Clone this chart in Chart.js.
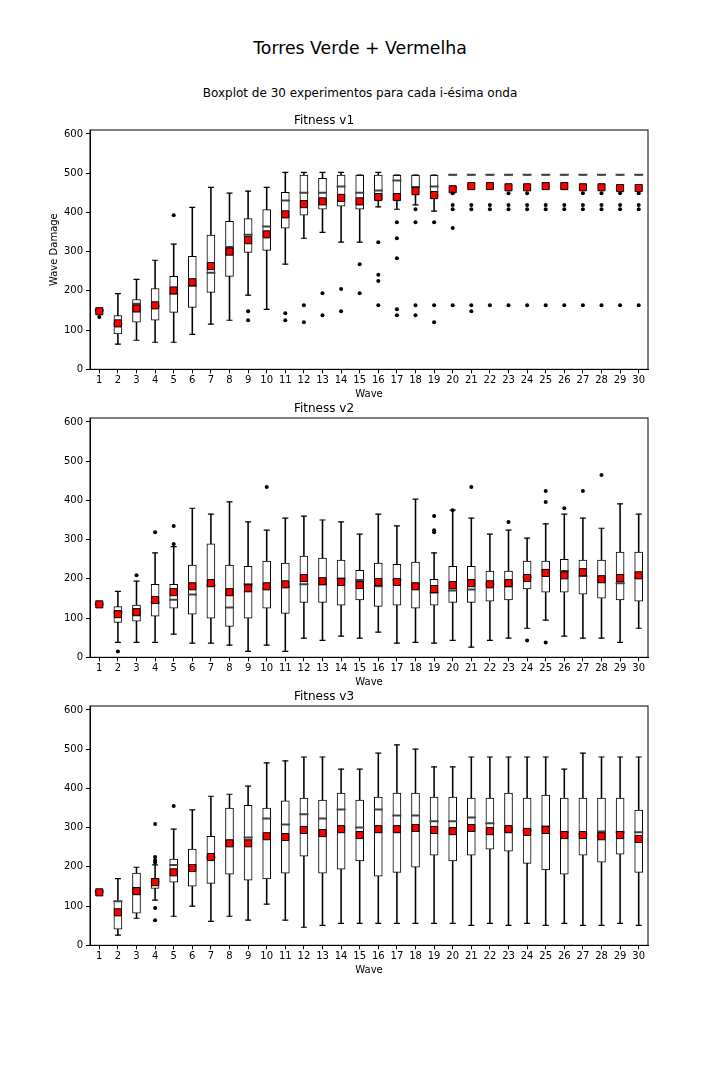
<!DOCTYPE html>
<html>
<head>
<meta charset="utf-8">
<script src="https://cdn.jsdelivr.net/npm/chart.js@4.4.0/dist/chart.umd.min.js"></script>
<style>
body { margin: 0; background: #fff; }
#fig { position: relative; width: 720px; height: 1080px; font-family: 'DejaVu Sans', sans-serif; color: #000; }
.sup { position: absolute; left: 0; width: 720px; text-align: center; }
.panel { position: absolute; left: 0; width: 720px; height: 290px; }
</style>
</head>
<body>
<div id="fig">
  <div class="sup" style="top:38px;font-size:17.3px;line-height:20px">Torres Verde + Vermelha</div>
  <div class="sup" style="top:86px;font-size:12px;line-height:14px">Boxplot de 30 experimentos para cada i-ésima onda</div>
  <div class="panel" style="top:112px"><canvas id="c1" width="720" height="290"></canvas></div>
  <div class="panel" style="top:400px"><canvas id="c2" width="720" height="290"></canvas></div>
  <div class="panel" style="top:688px"><canvas id="c3" width="720" height="290"></canvas></div>
</div>
<script>
const waves = ['1','2','3','4','5','6','7','8','9','10','11','12','13','14','15',
  '16','17','18','19','20','21','22','23','24','25','26','27','28','29','30'];

// Fitness v1
const v1Min  = [150,64,74,69,69,89,115,125,189,153,268,334,349,324,324,414,408,419,403,496,496,496,496,496,496,496,496,496,496,496];
const v1Q1   = [150,90,120,125,145,158,196,237,298,303,360,393,408,416,408,431,431,463,436,496,496,496,496,496,496,496,496,496,496,496];
const v1Med  = [150,116,167,161,193,213,246,312,343,364,430,450,450,466,450,456,481,465,466,496,496,496,496,496,496,496,496,496,496,496];
const v1Q3   = [150,137,178,206,237,288,342,377,384,407,451,495,487,495,495,495,495,495,495,496,496,496,496,496,496,496,496,496,496,496];
const v1Max  = [150,193,229,278,319,413,464,449,454,464,502,502,502,502,495,502,495,495,495,496,496,496,496,496,496,496,496,496,496,496];
const v1Mean = [148,117,155,163,201,222,263,300,329,344,395,421,428,437,428,439,439,454,444,459,467,467,464,464,467,467,464,464,462,462];
const v1Out  = [[1,133],[5,393],[9,148],[9,125],[11,143],[11,125],[12,163],[12,120],[13,194],[13,138],
  [14,205],[14,148],[15,268],[15,194],[16,324],[16,241],[16,225],[16,163],
  [17,375],[17,334],[17,283],[17,153],[17,138],[18,408],[18,375],[18,163],[18,138],
  [19,375],[19,163],[19,120],[20,449],[20,419],[20,408],[20,360],[20,163],
  [21,419],[21,408],[21,163],[21,148],[22,419],[22,408],[22,163],
  [23,449],[23,419],[23,408],[23,163],[24,449],[24,419],[24,408],[24,163],
  [25,419],[25,408],[25,163],[26,419],[26,408],[26,163],
  [27,449],[27,419],[27,408],[27,163],[28,449],[28,419],[28,408],[28,163],
  [29,449],[29,419],[29,408],[29,163],[30,449],[30,419],[30,408],[30,163]];

// Fitness v2
const v2Min  = [135,38,38,38,59,36,36,31,15,31,15,49,43,54,49,64,36,38,36,43,26,43,49,74,95,54,49,49,38,74];
const v2Q1   = [135,89,92,105,125,110,100,79,100,125,112,140,140,133,146,130,133,125,133,140,140,143,146,174,166,166,161,151,146,143];
const v2Med  = [135,115,112,140,147,160,183,127,186,175,180,186,186,201,197,181,197,186,165,170,173,186,181,204,221,220,207,194,189,203];
const v2Q3   = [135,129,133,186,186,235,289,235,232,245,240,258,253,248,222,240,237,243,199,232,232,220,220,245,245,250,248,248,268,268];
const v2Max  = [135,168,194,266,282,380,365,396,345,324,355,360,350,345,314,365,335,403,266,375,355,314,324,304,340,365,355,329,391,365];
const v2Mean = [135,110,115,146,166,181,189,166,176,181,186,202,194,192,184,192,192,181,174,184,189,186,189,202,215,209,217,199,202,209];
const v2Out  = [[2,15],[3,209],[4,319],[5,335],[5,289],[10,434],[19,360],[19,324],[19,319],[20,375],
  [21,434],[23,345],[24,43],[25,424],[25,396],[25,38],[26,380],[27,424],[28,465]];

// Fitness v3
const v3Min  = [137,26,69,115,74,100,61,74,64,105,64,46,51,56,56,56,56,56,56,56,51,56,51,56,51,56,51,51,56,51];
const v3Q1   = [137,41,82,145,161,151,158,181,166,169,184,227,184,194,215,176,186,199,230,215,230,245,240,209,192,181,230,212,232,186];
const v3Med  = [137,112,146,162,205,203,224,265,275,323,308,334,323,346,300,346,331,331,316,316,326,311,295,293,303,288,283,290,288,288];
const v3Q3   = [137,112,184,171,220,245,278,350,357,350,368,375,370,388,370,378,388,388,378,378,375,375,388,375,383,375,375,375,375,345];
const v3Max  = [137,170,199,205,296,345,380,385,406,465,470,480,480,449,449,490,511,500,455,455,480,480,480,480,480,449,490,480,480,480];
const v3Mean = [135,84,138,161,186,197,225,260,260,278,276,294,286,296,281,296,296,299,294,291,299,291,296,289,294,281,281,278,281,271];
const v3Out  = [[4,309],[4,225],[4,217],[4,211],[4,95],[4,64],[5,355]];

const yTicks = [0, 100, 200, 300, 400, 500, 600];

Chart.defaults.font.family = "'DejaVu Sans', sans-serif";
Chart.defaults.color = '#000';

// matplotlib draws a closed frame round the axes
const framePlugin = {
    id: 'frame',
    afterDraw(chart) {
        const a = chart.chartArea;
        const ctx = chart.ctx;
        ctx.save();
        ctx.strokeStyle = '#000';
        ctx.lineWidth = 1;
        ctx.strokeRect(a.left, a.top, a.right - a.left, a.bottom - a.top);
        ctx.restore();
    }
};

function make_panel(id, title, mins, q1, med, q3, maxs, mean, outliers, yTitle)
{
    const datasets = [
        {
            type: 'bar',
            data: mins.map((v, i) => [v, maxs[i]]),
            backgroundColor: '#000',
            borderWidth: 0,
            barThickness: 0.9,
            grouped: false,
            order: 6
        },
        {
            type: 'bar',
            data: q1.map((v, i) => [v, q3[i]]),
            backgroundColor: '#fff',
            borderColor: '#000',
            borderWidth: 1,
            borderSkipped: false,
            barThickness: 8,
            grouped: false,
            order: 5
        },
        {
            type: 'line',
            data: mins,
            showLine: false,
            pointStyle: 'line',
            pointRadius: 3,
            pointBorderWidth: 1.2,
            pointBorderColor: '#000',
            order: 4
        },
        {
            type: 'line',
            data: maxs,
            showLine: false,
            pointStyle: 'line',
            pointRadius: 3,
            pointBorderWidth: 1.2,
            pointBorderColor: '#000',
            order: 3
        },
        {
            type: 'line',
            data: med,
            showLine: false,
            pointStyle: 'line',
            pointRadius: 4.5,
            pointBorderWidth: 2,
            pointBorderColor: '#404040',
            order: 2
        },
        {
            type: 'line',
            data: mean,
            showLine: false,
            pointStyle: 'rect',
            pointRadius: 5,
            pointBackgroundColor: '#ff0000',
            pointBorderColor: '#000',
            pointBorderWidth: 1,
            order: 1
        },
        {
            type: 'line',
            data: outliers.map(p => ({x: String(p[0]), y: p[1]})),
            showLine: false,
            pointStyle: 'circle',
            pointRadius: 2,
            pointBackgroundColor: '#000',
            pointBorderWidth: 0,
            order: 0
        }
    ];

    return new Chart(document.getElementById(id), {
        type: 'bar',
        data: { labels: waves, datasets: datasets },
        options: {
            responsive: false,
            animation: false,
            events: [],
            layout: { padding: { left: 0, right: 72, top: 0, bottom: 0 } },
            scales: {
                x: {
                    type: 'category',
                    offset: true,
                    grid: { display: true, drawOnChartArea: false, drawTicks: true, tickLength: 4, color: '#000', offset: false },
                    border: { display: true, color: '#000' },
                    ticks: { font: { size: 10 }, color: '#000', padding: 1, autoSkip: false, maxRotation: 0 },
                    title: { display: true, text: 'Wave', font: { size: 10 }, color: '#000', padding: { top: 0, bottom: 2 } },
                    afterFit: function(scale) { scale.height = 32.7; }
                },
                y: {
                    min: 0,
                    max: 610,
                    grid: { display: true, drawOnChartArea: false, drawTicks: true, tickLength: 4, color: '#000' },
                    border: { display: true, color: '#000' },
                    ticks: { font: { size: 10 }, color: '#000', padding: 3, stepSize: 100, includeBounds: false },
                    afterBuildTicks: function(scale) { scale.ticks = yTicks.map(v => ({value: v})); },
                    title: { display: !!yTitle, text: yTitle || '', font: { size: 10 }, color: '#000', padding: { top: 48, bottom: 0 } },
                    afterFit: function(scale) { scale.width = 90; }
                }
            },
            plugins: {
                legend: { display: false },
                tooltip: { enabled: false },
                title: {
                    display: true,
                    text: title,
                    color: '#000',
                    font: { size: 12, weight: 'normal' },
                    padding: { top: 1.5, bottom: 2.1 }
                }
            }
        },
        plugins: [framePlugin]
    });
}

make_panel('c1', 'Fitness v1', v1Min, v1Q1, v1Med, v1Q3, v1Max, v1Mean, v1Out, 'Wave Damage');
make_panel('c2', 'Fitness v2', v2Min, v2Q1, v2Med, v2Q3, v2Max, v2Mean, v2Out, null);
make_panel('c3', 'Fitness v3', v3Min, v3Q1, v3Med, v3Q3, v3Max, v3Mean, v3Out, null);
</script>
</body>
</html>
